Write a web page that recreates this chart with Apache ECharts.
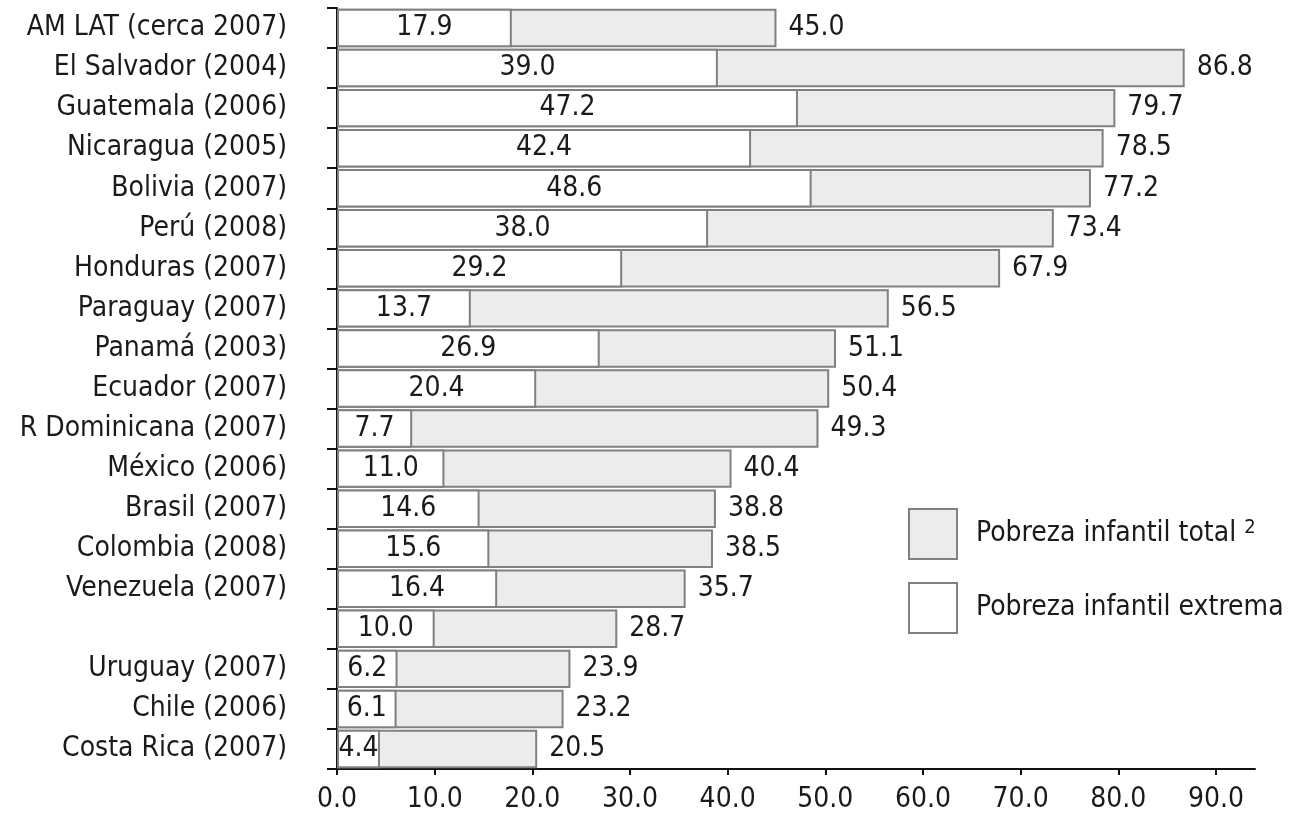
<!DOCTYPE html>
<html>
<head>
<meta charset="utf-8">
<script src="https://cdn.jsdelivr.net/npm/echarts@6/dist/echarts.min.js"></script>
<style>html,body{margin:0;padding:0;background:#fff;}#c{width:1300px;height:823px;}</style>
</head>
<body>
<div id="c"></div>
<script>
const categories = ["AM LAT (cerca 2007)", "El Salvador (2004)", "Guatemala (2006)", "Nicaragua (2005)", "Bolivia (2007)", "Perú (2008)", "Honduras (2007)", "Paraguay (2007)", "Panamá (2003)", "Ecuador (2007)", "R Dominicana (2007)", "México (2006)", "Brasil (2007)", "Colombia (2008)", "Venezuela (2007)", "", "Uruguay (2007)", "Chile (2006)", "Costa Rica (2007)"];
const extremeValues = [17.9, 39.0, 47.2, 42.4, 48.6, 38.0, 29.2, 13.7, 26.9, 20.4, 7.7, 11.0, 14.6, 15.6, 16.4, 10.0, 6.2, 6.1, 4.4];
const totalValues = [45.0, 86.8, 79.7, 78.5, 77.2, 73.4, 67.9, 56.5, 51.1, 50.4, 49.3, 40.4, 38.8, 38.5, 35.7, 28.7, 23.9, 23.2, 20.5];
const xTicks = [0, 10, 20, 30, 40, 50, 60, 70, 80, 90];
const seriesNames = ["Pobreza infantil total", "Pobreza infantil extrema"];

const FONT = '"Liberation Sans Narrow", "DejaVu Sans Condensed", "Liberation Sans", sans-serif';
const FS = 28;
const TXT = '#1a1a1a';
const chart = echarts.init(document.getElementById('c'));
chart.setOption({
  animation: false,
  backgroundColor: '#fff',
  textStyle: { fontFamily: FONT },
  grid: { left: 337, right: 45, top: 8, bottom: 54, containLabel: false },
  xAxis: {
    type: 'value', min: 0, max: 94, interval: 10,
    axisLine: { show: true, lineStyle: { color: '#111', width: 2 } },
    axisTick: { show: true, length: 6, lineStyle: { color: '#111', width: 2 },
      customValues: xTicks },
    axisLabel: { fontSize: FS, color: TXT, margin: 17, fontFamily: FONT,
      customValues: xTicks,
      formatter: v => Number(v).toFixed(1) },
    splitLine: { show: false }
  },
  yAxis: {
    type: 'category', data: categories, inverse: true,
    axisLine: { show: true, lineStyle: { color: '#111', width: 2 } },
    axisTick: { show: true, length: 10, lineStyle: { color: '#111', width: 2 } },
    axisLabel: { fontSize: FS, color: TXT, margin: 50, fontFamily: FONT }
  },
  legend: {
    orient: 'vertical', left: 903, top: 503,
    itemWidth: 48, itemHeight: 50, itemGap: 22,
    icon: 'rect',
    data: seriesNames,
    formatter: function (name) {
      return name === seriesNames[0] ? '{a|' + name + '} {s|2}' : '{a|' + name + '}';
    },
    textStyle: {
      fontFamily: FONT, color: TXT, fontSize: FS, padding: [0, 0, 0, 14],
      rich: {
        a: { fontSize: FS, fontFamily: FONT, color: TXT },
        s: { fontSize: 20, fontFamily: FONT, color: TXT, verticalAlign: 'top', padding: [0, 0, 12, 0] }
      }
    }
  },
  series: [
    {
      name: seriesNames[0], type: 'bar', data: totalValues,
      barCategoryGap: '4%',
      itemStyle: { color: '#ececec', borderColor: '#808080', borderWidth: 2 },
      label: { show: true, position: 'right', distance: 12, fontSize: FS, color: TXT, fontFamily: FONT,
        formatter: p => Number(p.value).toFixed(1) },
      z: 2
    },
    {
      name: seriesNames[1], type: 'bar', data: extremeValues,
      barGap: '-100%', barCategoryGap: '4%',
      itemStyle: { color: '#ffffff', borderColor: '#808080', borderWidth: 2 },
      label: { show: true, position: 'inside', fontSize: FS, color: TXT, fontFamily: FONT,
        formatter: p => Number(p.value).toFixed(1) },
      z: 3
    }
  ]
});
</script>
</body>
</html>
